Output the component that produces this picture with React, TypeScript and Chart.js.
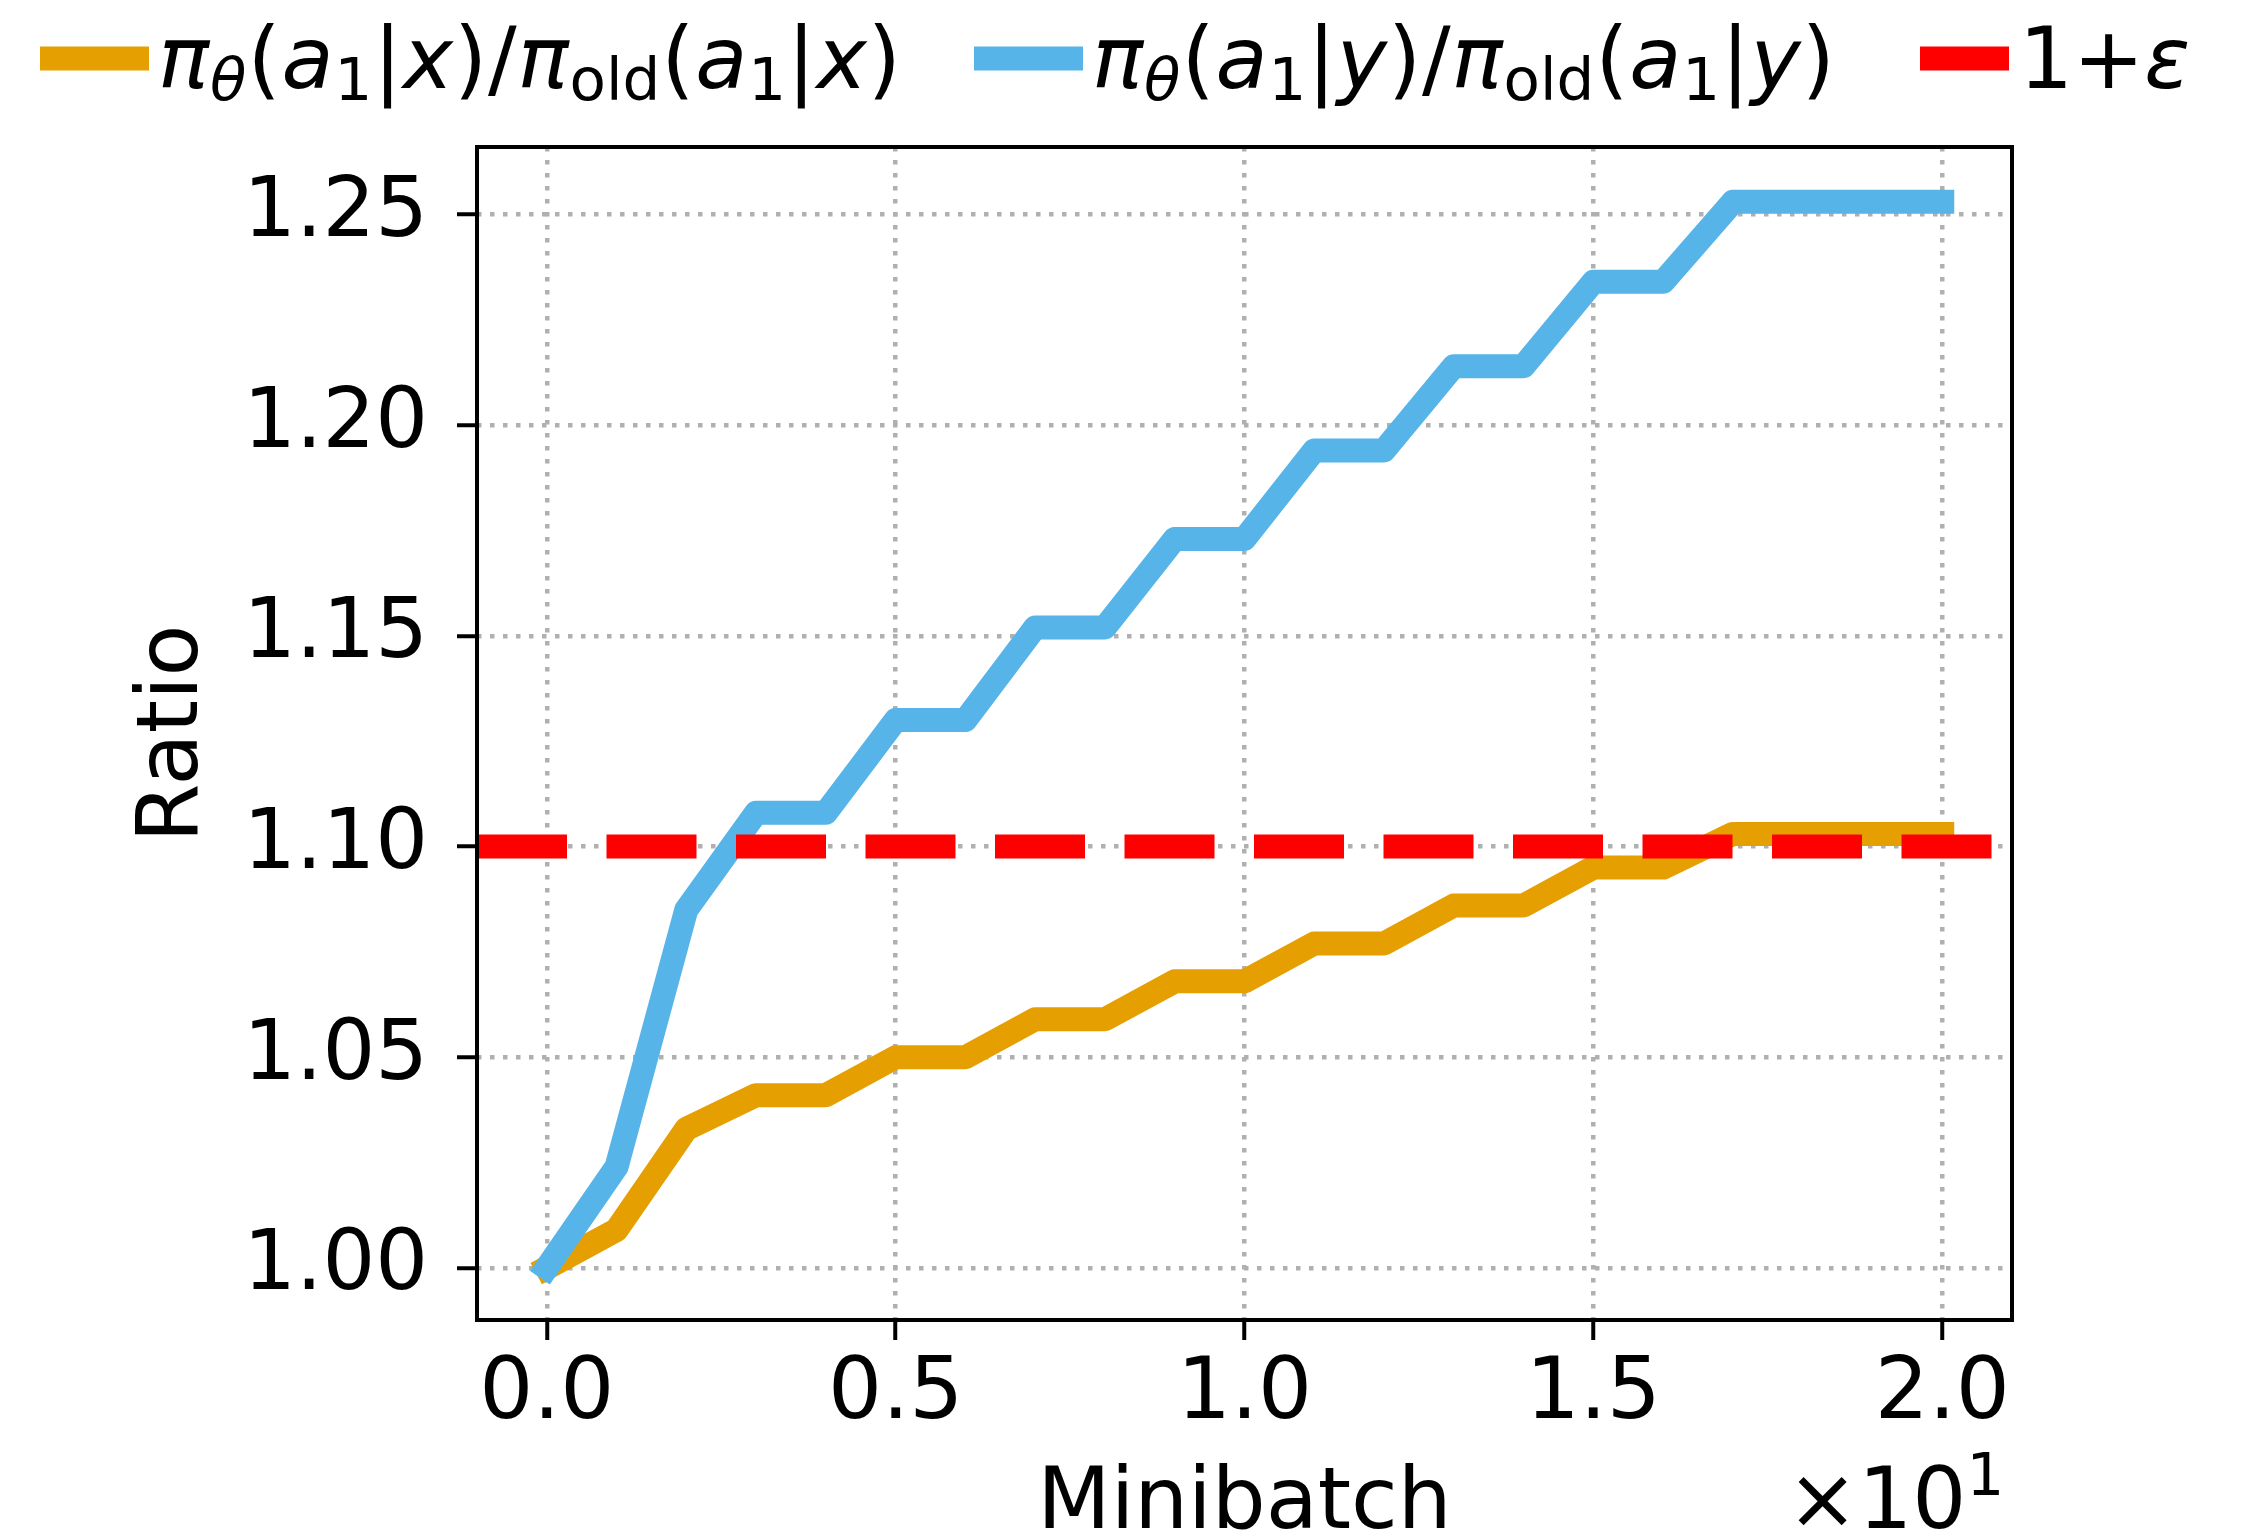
import React, { useEffect, useRef } from "react";
import { Chart, registerables } from "chart.js";

Chart.register(...registerables);

// ---------------- data ----------------
const minibatch = [0, 1, 2, 3, 4, 5, 6, 7, 8, 9, 10, 11, 12, 13, 14, 15, 16, 17, 18, 19, 20];
const ratioGivenX = [
  1.0, 1.009, 1.033, 1.041, 1.041, 1.05, 1.05, 1.059, 1.059, 1.068, 1.068,
  1.077, 1.077, 1.086, 1.086, 1.095, 1.095, 1.103, 1.103, 1.103, 1.103,
];
const ratioGivenY = [
  1.0, 1.024, 1.085, 1.108, 1.108, 1.13, 1.13, 1.152, 1.152, 1.173, 1.173,
  1.194, 1.194, 1.214, 1.214, 1.234, 1.234, 1.253, 1.253, 1.253, 1.253,
];
const clipThreshold = 1.1;
const clipSpan = [-1, 21];
const xTickValues = [0, 5, 10, 15, 20];
const yTickValues = [1.0, 1.05, 1.1, 1.15, 1.2, 1.25];
const xLimits = [-1, 21];
const yLimits = [0.98764, 1.266];
const xTitle = "Minibatch";
const yTitle = "Ratio";

// legend label pieces (math text)
type Seg = { t: string; it?: boolean; sub?: boolean; sup?: boolean };
const labelX: Seg[] = [
  { t: "π", it: true }, { t: "θ", it: true, sub: true }, { t: "(" }, { t: "a", it: true },
  { t: "1", sub: true }, { t: "|" }, { t: "x", it: true }, { t: ")" }, { t: "/" },
  { t: "π", it: true }, { t: "old", sub: true }, { t: "(" }, { t: "a", it: true },
  { t: "1", sub: true }, { t: "|" }, { t: "x", it: true }, { t: ")" },
];
const labelY: Seg[] = [
  { t: "π", it: true }, { t: "θ", it: true, sub: true }, { t: "(" }, { t: "a", it: true },
  { t: "1", sub: true }, { t: "|" }, { t: "y", it: true }, { t: ")" }, { t: "/" },
  { t: "π", it: true }, { t: "old", sub: true }, { t: "(" }, { t: "a", it: true },
  { t: "1", sub: true }, { t: "|" }, { t: "y", it: true }, { t: ")" },
];
const labelEps: Seg[] = [{ t: "1+" }, { t: "ε", it: true }];
const offsetText: Seg[] = [{ t: "×10" }, { t: "1", sup: true }];

const ORANGE = "#E69F00";
const BLUE = "#56B4E9";
const RED = "#FF0000";
const FAMILY = '"DejaVu Sans", "Liberation Sans", sans-serif';
const FS = 85;

function drawRich(
  ctx: CanvasRenderingContext2D,
  segs: Seg[],
  x: number,
  baseline: number,
  size: number,
  gap: number
) {
  ctx.textAlign = "left";
  ctx.textBaseline = "alphabetic";
  ctx.fillStyle = "#000";
  for (const s of segs) {
    const small = s.sub || s.sup;
    const fs = small ? size * 0.7 : size;
    ctx.font = `${s.it ? "italic " : ""}${fs}px ${FAMILY}`;
    const y = baseline + (s.sub ? 12 : 0) + (s.sup ? -33 : 0);
    ctx.fillText(s.t, x, y);
    x += ctx.measureText(s.t).width + gap;
  }
  return x;
}

const decorPlugin = {
  id: "decor",
  afterDatasetsDraw(chart: any) {
    const { ctx, chartArea } = chart;
    ctx.save();
    ctx.strokeStyle = "#000";
    ctx.lineWidth = 4;
    ctx.setLineDash([]);
    ctx.strokeRect(chartArea.left, chartArea.top, chartArea.right - chartArea.left, chartArea.bottom - chartArea.top);
    ctx.restore();
  },
  afterDraw(chart: any) {
    const { ctx } = chart;
    ctx.save();
    const swY = 58.5;
    const swH = 24;
    ctx.fillStyle = ORANGE;
    ctx.fillRect(40, swY - swH / 2, 109, swH);
    ctx.fillStyle = BLUE;
    ctx.fillRect(974, swY - swH / 2, 109, swH);
    ctx.fillStyle = RED;
    ctx.fillRect(1920, swY - swH / 2, 89, swH);
    drawRich(ctx, labelX, 158, 88, FS, 0.9);
    drawRich(ctx, labelY, 1092, 88, FS, 0.9);
    drawRich(ctx, labelEps, 2019, 88, FS, 0);
    drawRich(ctx, offsetText, 1787, 1528, FS, 0);
    ctx.restore();
  },
};

export default function App() {
  const canvasRef = useRef<HTMLCanvasElement | null>(null);

  useEffect(() => {
    const canvas = canvasRef.current;
    if (!canvas) return;
    Chart.defaults.font.family = FAMILY;
    Chart.defaults.color = "#000";

    const gridCommon = {
      color: "#b0b0b0",
      lineWidth: 4.5,
      drawTicks: true,
      tickLength: 20,
      tickWidth: 4,
      tickColor: "#000",
      tickBorderDash: [],
    };

    const chart = new Chart(canvas, {
      type: "line",
      data: {
        datasets: [
          {
            label: "1+ε",
            data: clipSpan.map((x) => ({ x, y: clipThreshold })),
            borderColor: RED,
            borderWidth: 24,
            borderDash: [90, 39.5],
            borderCapStyle: "butt",
            pointRadius: 0,
            order: 0,
          },
          {
            label: "πθ(a1|y)/πold(a1|y)",
            data: minibatch.map((x, i) => ({ x, y: ratioGivenY[i] })),
            borderColor: BLUE,
            borderWidth: 24,
            borderJoinStyle: "round",
            borderCapStyle: "square",
            pointRadius: 0,
            tension: 0,
            order: 1,
          },
          {
            label: "πθ(a1|x)/πold(a1|x)",
            data: minibatch.map((x, i) => ({ x, y: ratioGivenX[i] })),
            borderColor: ORANGE,
            borderWidth: 24,
            borderJoinStyle: "round",
            borderCapStyle: "square",
            pointRadius: 0,
            tension: 0,
            order: 2,
          },
        ],
      },
      options: {
        responsive: false,
        animation: false,
        devicePixelRatio: 1,
        layout: { padding: { left: 0, top: 147, right: 242, bottom: 0 } },
        plugins: { legend: { display: false }, tooltip: { enabled: false } },
        scales: {
          x: {
            type: "linear",
            min: xLimits[0],
            max: xLimits[1],
            afterBuildTicks: (scale: any) => {
              scale.ticks = xTickValues.map((value) => ({ value }));
            },
            afterFit: (scale: any) => {
              scale.height = 220;
            },
            ticks: {
              autoSkip: false,
              maxRotation: 0,
              padding: 5,
              color: "#000",
              font: { size: FS, family: FAMILY },
              callback: (v: any) => (Number(v) / 10).toFixed(1),
            },
            grid: gridCommon,
            border: { display: false, dash: [4.5, 8.5] },
            title: {
              display: true,
              text: xTitle,
              color: "#000",
              font: { size: FS, family: FAMILY, lineHeight: 0.8 },
              padding: 0,
            },
          },
          y: {
            type: "linear",
            min: yLimits[0],
            max: yLimits[1],
            afterBuildTicks: (scale: any) => {
              scale.ticks = yTickValues.map((value) => ({ value }));
            },
            afterFit: (scale: any) => {
              scale.width = 477;
            },
            ticks: {
              autoSkip: false,
              padding: 29,
              color: "#000",
              font: { size: 83, family: FAMILY },
              callback: (v: any) => Number(v).toFixed(2),
            },
            grid: gridCommon,
            border: { display: false, dash: [4.5, 8.5] },
            title: {
              display: true,
              text: yTitle,
              color: "#000",
              font: { size: FS, family: FAMILY, lineHeight: 0.8 },
              padding: { top: 141, bottom: 0 },
            },
          },
        },
      } as any,
      plugins: [decorPlugin],
    });

    return () => {
      chart.destroy();
    };
  }, []);

  return (
    <div style={{ position: "fixed", left: 0, top: 0, width: 2254, height: 1540, background: "#fff" }}>
      <canvas ref={canvasRef} width={2254} height={1540} style={{ display: "block" }} />
    </div>
  );
}
